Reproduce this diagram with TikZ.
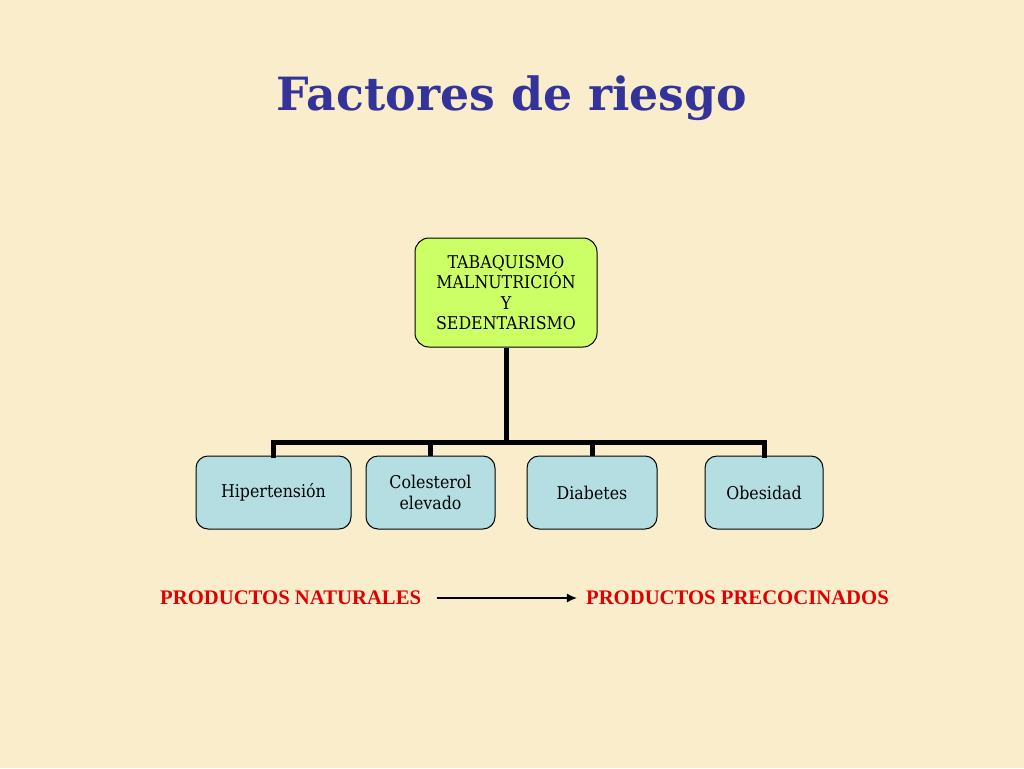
\documentclass[tikz,border=0pt]{standalone}
\usepackage{fontspec}
\usetikzlibrary{arrows.meta}
\setmainfont{DejaVu Serif}
\newfontfamily\titlefont{DejaVu Serif}
\newfontfamily\boxfont{DejaVu Serif Condensed}
\newfontfamily\redfont{Liberation Serif}
\definecolor{bgc}{RGB}{249,237,204}
\definecolor{titleblue}{RGB}{51,51,153}
\definecolor{topgreen}{RGB}{204,255,102}
\definecolor{boxblue}{RGB}{180,222,226}
\definecolor{redtxt}{RGB}{224,0,0}
\tikzset{
  topbox/.style={draw=black, line width=1pt, fill=topgreen, rounded corners=14pt, inner sep=0pt, align=center, font=\boxfont\fontsize{17.6}{20.6}\selectfont},
  leafbox/.style={draw=black, line width=1pt, fill=boxblue, rounded corners=12pt, inner sep=0pt, align=center, font=\boxfont\fontsize{17.6}{20.6}\selectfont},
  tree/.style={line width=5pt, draw=black},
  redlabel/.style={text=redtxt, font=\redfont\bfseries\fontsize{20.7}{24}\selectfont, inner sep=0pt}
}
\begin{document}
\begin{tikzpicture}[x=1pt,y=-1pt]
\fill[bgc] (0,0) rectangle (1024,768);
\useasboundingbox (0,0) rectangle (1024,768);
\node[text=titleblue, font=\titlefont\bfseries\fontsize{45.8}{52}\selectfont, inner sep=0pt] (title) at (512,98) {Factores de riesgo};
\node[topbox, minimum width=182pt, minimum height=109pt] (top) at (506,292.5) {TABAQUISMO\\MALNUTRICIÓN\\Y\\SEDENTARISMO};
\node[leafbox, minimum width=155pt, minimum height=73pt] (hip) at (273.5,492.5) {Hipertensión};
\node[leafbox, minimum width=129pt, minimum height=73pt] (col) at (430.5,492.5) {Colesterol\\elevado};
\node[leafbox, minimum width=130pt, minimum height=73pt] (dia) at (592,492.5) {Diabetes};
\node[leafbox, minimum width=118pt, minimum height=73pt] (obe) at (764,492.5) {Obesidad};
\coordinate (bar) at (506,442);
\draw[tree] (top.south) -- (bar);
\draw[tree, line cap=rect] (hip.north) -- (hip.north |- bar) -- (obe.north |- bar) -- (obe.north);
\draw[tree] (col.north) -- (col.north |- bar);
\draw[tree] (dia.north) -- (dia.north |- bar);
\node[redlabel, anchor=west] (nat) at (160,598) {PRODUCTOS NATURALES};
\node[redlabel, anchor=east] (pre) at (889,598) {PRODUCTOS PRECOCINADOS};
\draw[line width=1.3pt, -{Latex[length=10pt,width=9pt]}] ([xshift=16pt]nat.east) -- ([xshift=-9pt]pre.west);
\end{tikzpicture}
\end{document}
